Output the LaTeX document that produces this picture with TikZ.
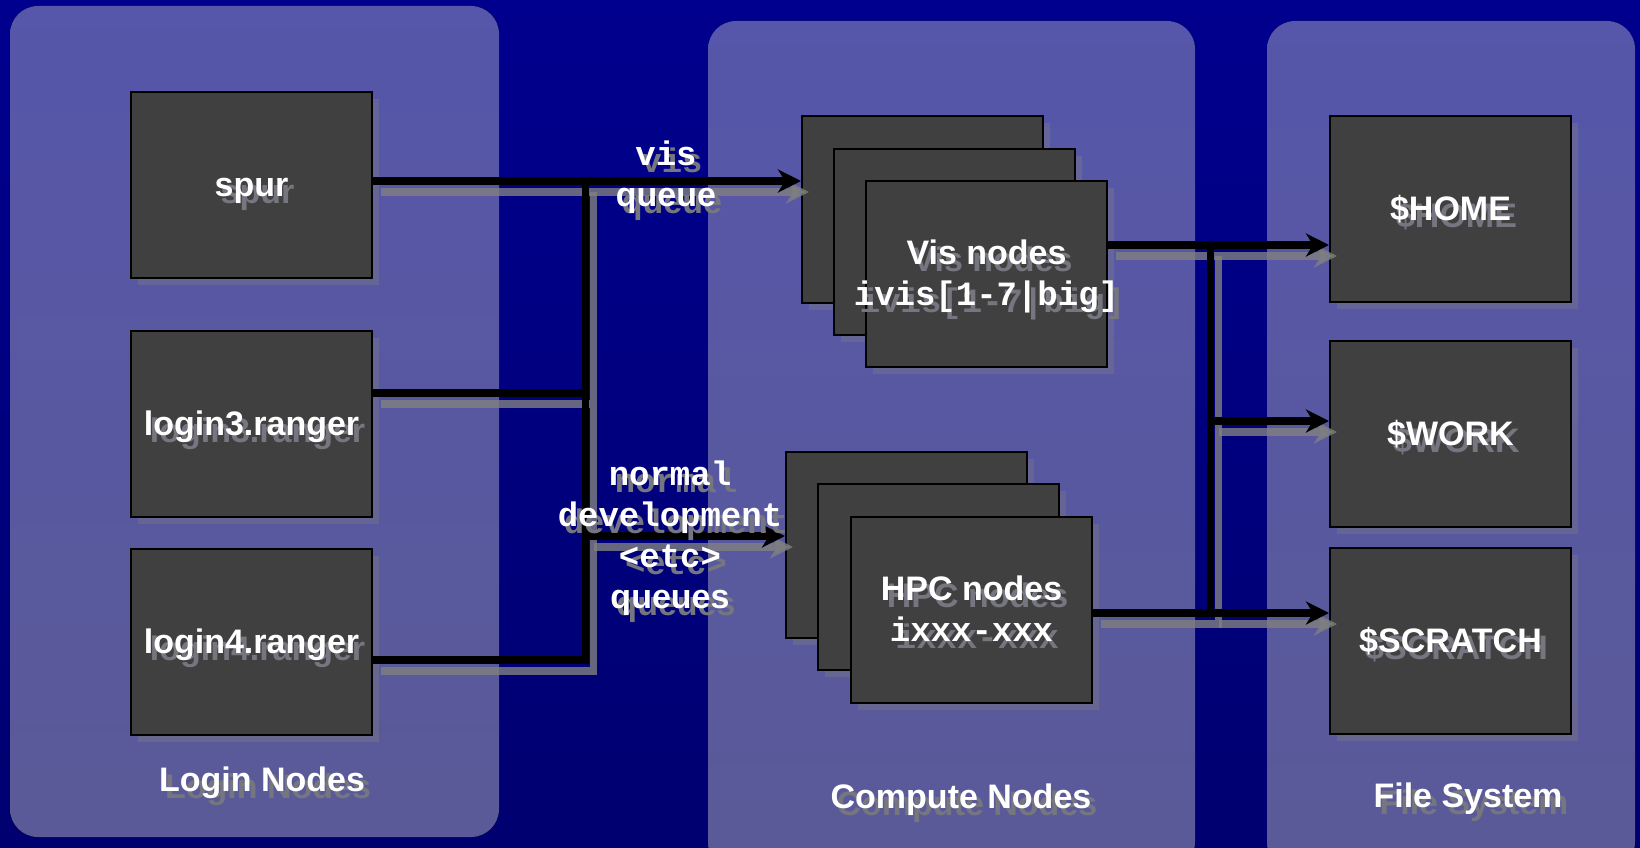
\documentclass[tikz,border=0pt]{standalone}
\usepackage{fontspec}
\setmainfont{Liberation Sans}
\setmonofont{Liberation Mono}
\usepackage{tikz}
\usetikzlibrary{arrows.meta,shadows}

\definecolor{bgtop}{RGB}{0,0,142}
\definecolor{bgbot}{RGB}{0,0,112}
\definecolor{paneltop}{RGB}{86,86,170}
\definecolor{panelbot}{RGB}{90,90,152}
\definecolor{boxgray}{RGB}{64,64,64}
\definecolor{txtshade}{RGB}{118,118,128}
\definecolor{lineshade}{RGB}{128,128,128}

% white text with a grey offset copy behind it (line box as in the slide)
\newcommand{\shad}[1]{\rule[-7.2pt]{0pt}{38pt}\rlap{\kern6pt\smash{\raisebox{-7pt}{\color{txtshade}{#1}}}}{#1}}
\newcommand{\shadtt}[1]{\shad{\ttfamily #1}}

\tikzset{
  panel/.style={rounded corners=28pt, top color=paneltop, bottom color=panelbot, draw=none},
  box/.style={draw=black, line width=2pt, fill=boxgray, minimum width=241pt, minimum height=186pt,
    inner sep=0pt, text=white, font=\bfseries\fontsize{34}{41}\selectfont, align=center,
    drop shadow={shadow xshift=7pt, shadow yshift=-7pt, fill=lineshade, opacity=.35}},
  tag/.style={text=white, font=\bfseries\fontsize{34}{41}\selectfont, align=center, inner sep=0pt},
  wire/.style={line width=7.5pt, line join=miter,
    preaction={draw=lineshade, line width=7.5pt, opacity=.8, transform canvas={shift={(8pt,-11pt)}}}},
  feed/.style={wire, -{Stealth[length=23pt,width=23pt,inset=7pt]}},
}

\begin{document}
\begin{tikzpicture}[x=1pt, y=-1pt]
    \useasboundingbox (0,0) rectangle (1640,848);
    \fill [top color=bgtop, bottom color=bgbot] (0,0) rectangle (1640,848);
    % panels
    \fill [panel] (10,6) rectangle (499,837);
    \fill [panel] (708,21) rectangle (1195,870);
    \fill [panel] (1267,21) rectangle (1635,870);
    % login nodes
    \node [box] (spur) at (251.5,185) {\shad{spur}};
    \node [box] (login3) at (251.5,423.5) {\shad{login3.ranger}};
    \node [box] (login4) at (251.5,642) {\shad{login4.ranger}};
    % compute nodes
    \node [box] (visback) at (922.5,209.5) {};
    \node [box] (vismid) at (954.5,241.5) {};
    \node [box] (visfront) at (986.5,273.5) {\shad{Vis nodes}\\\makebox[0pt]{\shadtt{ivis[1-7|big]}}};
    \node [box] (hpcback) at (906.5,545) {};
    \node [box] (hpcmid) at (938.5,577) {};
    \node [box] (hpcfront) at (971.5,609.5) {\shad{HPC nodes}\\\shadtt{ixxx-xxx}};
    % file system
    \node [box] (home) at (1450.5,209) {\shad{\$HOME}};
    \node [box] (work) at (1450.5,433.5) {\shad{\$WORK}};
    \node [box] (scratch) at (1450.5,641) {\shad{\$SCRATCH}};
    % trunk points
    \coordinate (qvis) at (585.5,181);
    \coordinate (qlog3) at (585.5,393);
    \coordinate (qhpc) at (585.5,536);
    \coordinate (qlog4) at (585.5,660);
    \coordinate (fhome) at (1210.5,245);
    \coordinate (fwork) at (1210.5,421);
    \coordinate (fscr) at (1210.5,613);
    % connectors
    \draw [feed] (spur.east |- qvis) -- (visback.west |- qvis);
    \draw [wire] (login3.east |- qlog3) -- (qlog3) (login4.east |- qlog4) -- (qlog4) -- (qvis);
    \draw [feed] (qhpc) -- (hpcback.west |- qhpc);
    \draw [feed] (visfront.east |- fhome) -- (home.west |- fhome);
    \draw [wire] (hpcfront.east |- fscr) -- (fscr) -- (fhome);
    \draw [feed] (fscr) -- (scratch.west |- fscr);
    \draw [feed] (fwork) -- (work.west |- fwork);
    % labels
    \node [tag] (visq) at (666,174) {\shadtt{vis}\\\shad{queue}};
    \node [tag] (hpcq) at (670,535) {\shadtt{normal}\\\shadtt{development}\\\shadtt{<etc>}\\\shad{queues}};
    \node [tag] (loginlbl) at (262,780) {\shad{Login Nodes}};
    \node [tag] (computelbl) at (961,797) {\shad{Compute Nodes}};
    \node [tag] (fslbl) at (1468,796) {\shad{File System}};
\end{tikzpicture}
\end{document}
